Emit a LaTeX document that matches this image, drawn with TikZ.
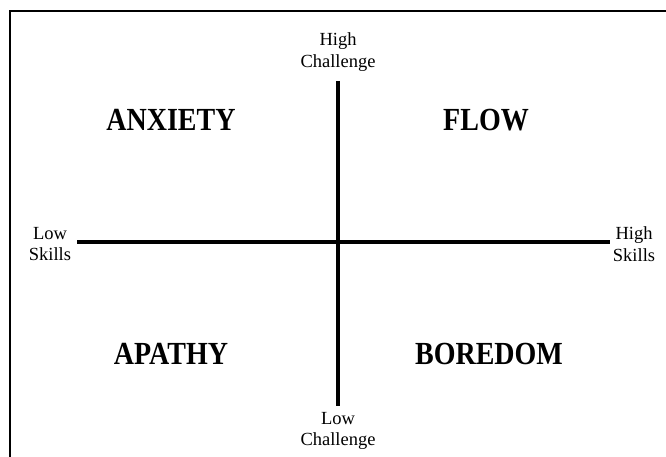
\documentclass[tikz,border=0pt]{standalone}
\usepackage{fontspec}
\setmainfont{Liberation Serif}
\begin{document}
\begin{tikzpicture}[x=1pt, y=-1pt,
		axis/.style={line width=4.5pt},
		axislabel/.style={align=center, inner sep=0pt, font=\fontsize{18.5}{21.5}\selectfont},
		quadlabel/.style={inner sep=0pt, font=\fontsize{28}{30}\selectfont\bfseries}]
	      \useasboundingbox (0,0) rectangle (666,457);
	      \draw[line width=2pt] (666,11) -- (10,11) -- (10,457);
	      \coordinate (top) at (338,81);
	      \coordinate (bottom) at (338,406);
	      \coordinate (left) at (77,242);
	      \coordinate (right) at (610,242);
	      \draw[axis] (top) -- (bottom);
	      \draw[axis] (left) -- (right);
	      \node[axislabel] (highchal) at (338,52) {High\\Challenge};
	      \node[axislabel] (lowchal) at (338,431) {Low\\Challenge};
	      \node[axislabel] (lowskill) at (50,244) {Low\\Skills};
	      \node[axislabel] (highskill) at (634,244) {High\\Skills};
	      \node[quadlabel] (anxiety) at (171,120) {\scalebox{1}[1.15]{ANXIETY}};
	      \node[quadlabel] (flow) at (486,120) {\scalebox{1}[1.15]{FLOW}};
	      \node[quadlabel] (apathy) at (171,354) {\scalebox{1}[1.15]{APATHY}};
	      \node[quadlabel] (boredom) at (489,354) {\scalebox{1}[1.15]{BOREDOM}};
\end{tikzpicture}
\end{document}
